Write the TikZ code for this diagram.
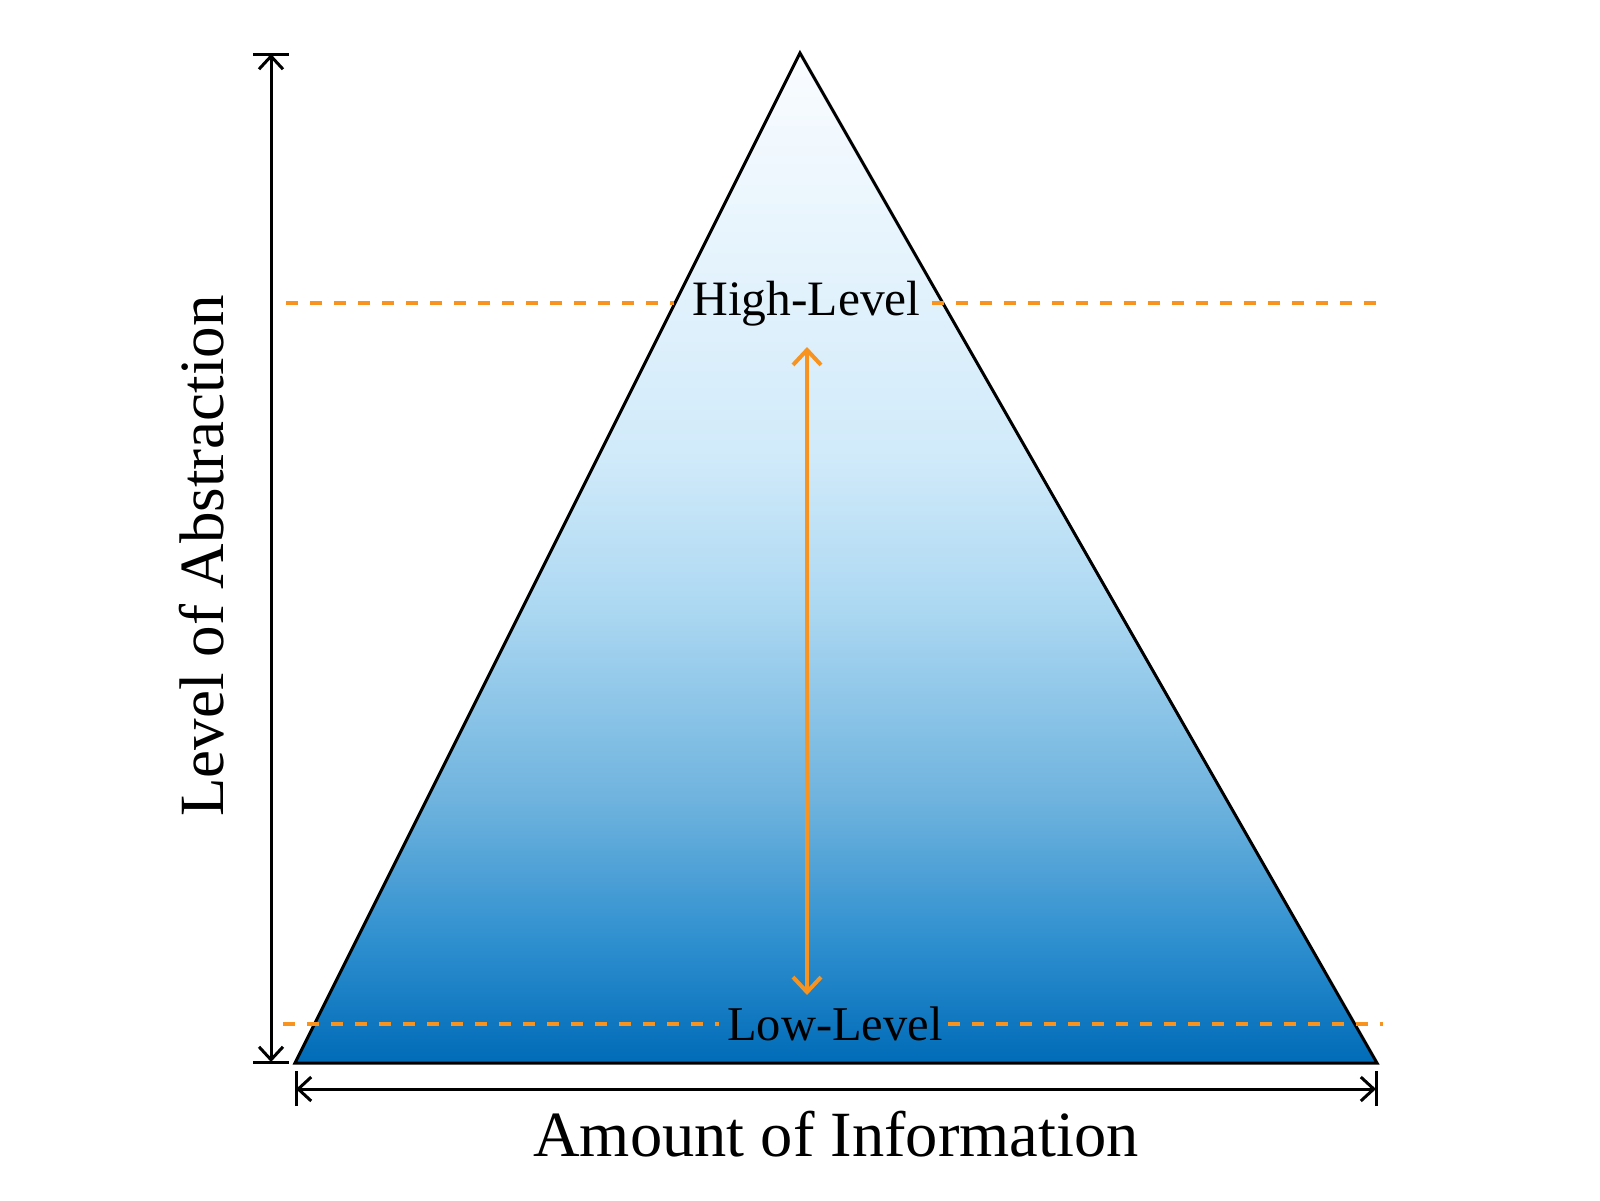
\documentclass[tikz,border=0pt]{standalone}
\usepackage{fontspec}
\setmainfont{Liberation Serif}
\usetikzlibrary{arrows.meta}
\definecolor{orng}{RGB}{247,147,30}
\pgfdeclareverticalshading{pyramidshade}{100bp}{rgb(0bp)=(0,0.42,0.72); rgb(25bp)=(0,0.42,0.72); rgb(30.94bp)=(0.18,0.56,0.81); rgb(37.87bp)=(0.43,0.70,0.87); rgb(47.77bp)=(0.68,0.85,0.95); rgb(55.2bp)=(0.82,0.92,0.98); rgb(75bp)=(0.98,0.99,1); rgb(100bp)=(0.98,0.99,1)}
\begin{document}
\begin{tikzpicture}[x=1pt,y=-1pt,
  blk/.style={line width=3pt,black},
  guide/.style={line width=4pt,orng,dash pattern=on 12pt off 12pt},
  dimarrow/.style={blk,{Straight Barb[length=13pt,width=24pt]}-{Straight Barb[length=13pt,width=24pt]}},
  orarrow/.style={line width=4pt,orng,{Straight Barb[length=15pt,width=28pt]}-{Straight Barb[length=15pt,width=28pt]}},
  lvl/.style={inner sep=0pt,anchor=base},
  axislabel/.style={inner sep=0pt,anchor=base}]
\useasboundingbox (0,0) rectangle (1600,1200);
% pyramid
\coordinate (apex) at (800,53);
\coordinate (bl) at (295,1063);
\coordinate (br) at (1377,1063);
\shade[shading=pyramidshade] (apex) -- (bl) -- (br) -- cycle;
\draw[blk,line join=miter] (apex) -- (bl) -- (br) -- cycle;
% level labels
\node[lvl,font=\fontsize{49.5}{55}\selectfont] (hl) at (806.5,315) {High-Level};
\node[lvl,font=\fontsize{48.5}{54}\selectfont] (ll) at (835,1040) {Low-Level};
% guides
\coordinate (hlL) at (286,303);
\coordinate (hlR) at (1385,303);
\coordinate (llL) at (283,1024);
\coordinate (llR) at (1383,1024);
\draw[guide] (hlL) -- ([xshift=-18pt]hl.west |- hlL);
\draw[guide] ([xshift=11pt]hl.east |- hlR) -- (hlR);
\draw[guide] (llL) -- ([xshift=-8pt]ll.west |- llL);
\draw[guide] ([xshift=5pt]ll.east |- llR) -- (llR);
% orange arrow
\coordinate (oTop) at (807,347);
\coordinate (oBot) at (807,995);
\draw[orarrow] (oBot) -- (oTop);
% vertical dimension
\coordinate (vTop) at (271,54);
\coordinate (vBot) at (271,1062);
\draw[dimarrow] (vBot) -- (vTop);
\draw[blk] ([xshift=-18pt]vTop) -- ([xshift=18pt]vTop);
\draw[blk] ([xshift=-18pt]vBot) -- ([xshift=18pt]vBot);
% horizontal dimension
\coordinate (hL) at (296,1089);
\coordinate (hR) at (1376,1089);
\draw[dimarrow] (hL) -- (hR);
\draw[blk] ([yshift=-17pt]hL) -- ([yshift=18pt]hL);
\draw[blk] ([yshift=-17pt]hR) -- ([yshift=18pt]hR);
% axis labels
\node[axislabel,font=\fontsize{64.5}{72}\selectfont] (xlab) at (836,1156) {Amount of Information};
\node[axislabel,rotate=90,font=\fontsize{63}{70}\selectfont] (ylab) at (223,556) {Level of Abstraction};
\end{tikzpicture}
\end{document}
